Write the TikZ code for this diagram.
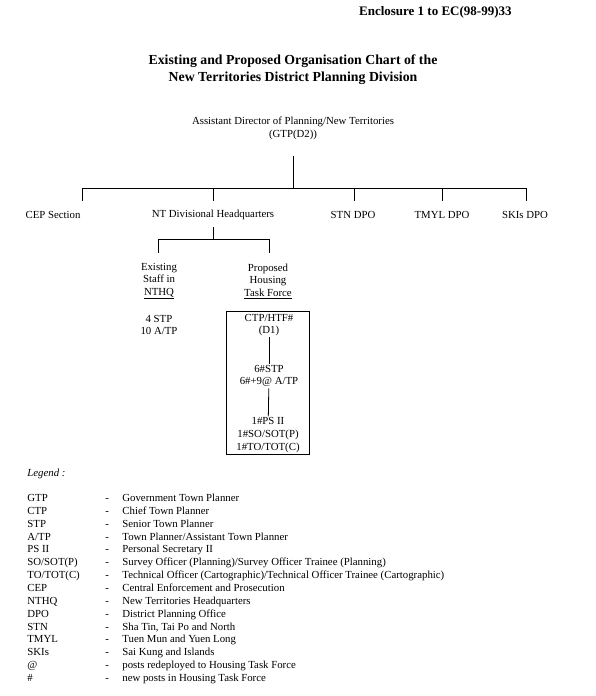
\documentclass[tikz,border=0pt]{standalone}
\usepackage{fontspec}
\setmainfont{Liberation Serif}
\begin{document}
\begin{tikzpicture}[x=1pt, y=-1pt, font=\fontsize{10.8}{12.6}\selectfont, line width=0.8pt,
    org/.style={align=center, inner sep=1pt},
    legtxt/.style={anchor=base west, inner sep=0pt}]
    \useasboundingbox (0,0) rectangle (596,696);
    % heading
    \node[anchor=east, inner sep=0pt, font=\fontsize{13}{16}\selectfont\bfseries] (encl) at (512,12.5)
        {Enclosure 1 to EC(98-99)33};
    \node[align=center, inner sep=0pt, font=\fontsize{13.8}{17}\selectfont\bfseries] (title) at (293,70)
        {Existing and Proposed Organisation Chart of the\\New Territories District Planning Division};
    % chart
    \node[org] (ad) at (293,128.5) {Assistant Director of Planning/New Territories\\(GTP(D2))};
    \node[org] (cep) at (53,214.5) {CEP Section};
    \node[org] (ntd) at (213,214.5) {NT Divisional Headquarters};
    \node[org] (stn) at (353,214.5) {STN DPO};
    \node[org] (tmyl) at (442,214.5) {TMYL DPO};
    \node[org] (ski) at (525,214.5) {SKIs DPO};
    \node[org] (exist) at (159,281) {Existing\\Staff in\\\underline{NTHQ}};
    \node[org] (prop) at (268,281) {Proposed\\Housing\\\underline{Task Force}};
    \node[org] (staff) at (159,325) {4 STP\\10 A/TP};
    \node[draw, minimum width=83pt, minimum height=143pt, inner sep=0pt] (htf) at (267.5,382.5) {};
    \node[org] (htf1) at (269,325) {CTP/HTF\#\\(D1)};
    \node[org] (htf2) at (269,376) {6\#STP\\6\#+9@ A/TP};
    \node[org] (htf3) at (268,435) {1\#PS II\\1\#SO/SOT(P)\\1\#TO/TOT(C)};
    \coordinate (ad-foot) at (293,156);
    \coordinate (bus) at (293,188);
    \coordinate (d-cep) at (82,201);
    \coordinate (d-ntd) at (213,201);
    \coordinate (d-stn) at (354,201);
    \coordinate (d-tmyl) at (442,201);
    \coordinate (d-ski) at (526,201);
    \coordinate (ntd-foot) at (213,227);
    \coordinate (sub) at (213,239);
    \coordinate (d-exist) at (158,253);
    \coordinate (d-prop) at (269,253);
    \draw (ad-foot) -- (bus);
    \draw (d-cep) -- (d-cep |- bus) -- (d-ski |- bus) -- (d-ski);
    \draw (d-ntd) -- (d-ntd |- bus);
    \draw (d-stn) -- (d-stn |- bus);
    \draw (d-tmyl) -- (d-tmyl |- bus);
    \draw (ntd-foot) -- (sub);
    \draw (d-exist) -- (d-exist |- sub) -- (d-prop |- sub) -- (d-prop);
    \draw (htf1) -- (htf2);
    \draw (htf2) -- (htf3);
    % legend
    \node[legtxt, font=\fontsize{10.8}{12.6}\selectfont\itshape] (legend) at (27,476.5) {Legend :};
    \foreach \ab/\desc [count=\i from 0] in {
        {GTP}/{Government Town Planner},
        {CTP}/{Chief Town Planner},
        {STP}/{Senior Town Planner},
        {A/TP}/{Town Planner/Assistant Town Planner},
        {PS II}/{Personal Secretary II},
        {SO/SOT(P)}/{Survey Officer (Planning)/Survey Officer Trainee (Planning)},
        {TO/TOT(C)}/{Technical Officer (Cartographic)/Technical Officer Trainee (Cartographic)},
        {CEP}/{Central Enforcement and Prosecution},
        {NTHQ}/{New Territories Headquarters},
        {DPO}/{District Planning Office},
        {STN}/{Sha Tin, Tai Po and North},
        {TMYL}/{Tuen Mun and Yuen Long},
        {SKIs}/{Sai Kung and Islands},
        {@}/{posts redeployed to Housing Task Force},
        {\#}/{new posts in Housing Task Force}} {
        \node[legtxt] (ab\i) at (27,501.5+12.86*\i) {\ab};
        \node[legtxt] (dash\i) at (105,501.5+12.86*\i) {-};
        \node[legtxt] (desc\i) at (122,501.5+12.86*\i) {\desc};
    }
\end{tikzpicture}
\end{document}
